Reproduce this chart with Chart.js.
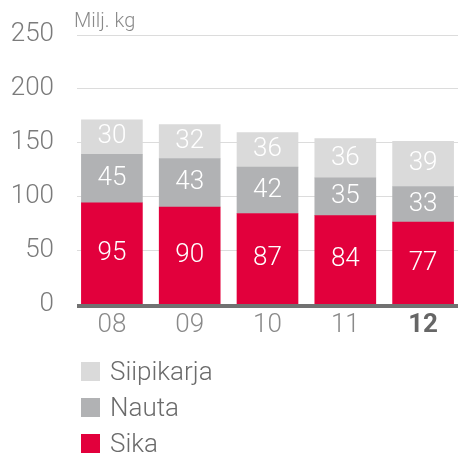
<!DOCTYPE html>
<html>
<head>
<meta charset="utf-8">
<script src="https://cdn.jsdelivr.net/npm/chart.js@4.4.1/dist/chart.umd.min.js"></script>
<style>
  html, body { margin: 0; padding: 0; background: #fff; overflow: hidden; }
  #wrap { position: relative; width: 458px; height: 457px; overflow: hidden; }
  #legend {
    position: absolute; left: 81px; top: 353px;
    font-family: Roboto, sans-serif; font-weight: 300; font-size: 26px; color: #6b6b6b;
  }
  .item { display: flex; align-items: center; height: 36px; }
  .box { width: 19px; height: 19px; margin-right: 10px; }
</style>
</head>
<body>
<div id="wrap">
  <canvas id="chart" width="462" height="457"></canvas>
  <div id="legend"></div>
</div>
<script>
// Vuodet
const years = ["08", "09", "10", "11", "12"];
const yTicks = [0, 50, 100, 150, 200, 250];

// Pylväiden korkeudet kuvasta luettuna (milj. kg)
const sika = [94, 90, 84, 82, 76];
const nauta = [45, 45, 43, 35, 33];
const siipikarja = [32, 31.5, 32, 36.5, 42];

// Pylväisiin kirjoitetut luvut
const sikaLabels = ["95", "90", "87", "84", "77"];
const nautaLabels = ["45", "43", "42", "35", "33"];
const siipikarjaLabels = ["30", "32", "36", "36", "39"];

const colors = { sika: "#e2003c", nauta: "#b1b2b4", siipikarja: "#dadada" };

// Ruudukko, perusviiva, yksikkö ja arvot pylväissä
const extras = {
  id: "extras",
  beforeDatasetsDraw(chart) {
    const { ctx, chartArea, scales: { y } } = chart;
    ctx.save();
    ctx.strokeStyle = "#dcdcdc";
    ctx.lineWidth = 1;
    yTicks.forEach(function (v) {
      if (v === 0) return;
      const py = Math.round(y.getPixelForValue(v)) + 0.5;
      ctx.beginPath();
      ctx.moveTo(77, py);
      ctx.lineTo(chartArea.right, py);
      ctx.stroke();
    });
    ctx.fillStyle = "#717171";
    ctx.fillRect(77, chartArea.bottom, chartArea.right - 77, 4);
    ctx.fillStyle = "#8a8a8a";
    ctx.font = "300 20px Roboto";
    ctx.textAlign = "left";
    ctx.textBaseline = "alphabetic";
    ctx.fillText("Milj. kg", 74, 26.5);
    ctx.restore();
  },
  afterDatasetsDraw(chart) {
    const { ctx } = chart;
    ctx.save();
    ctx.fillStyle = "#fff";
    ctx.font = "300 26px Roboto";
    ctx.textAlign = "center";
    ctx.textBaseline = "middle";
    chart.data.datasets.forEach(function (ds, i) {
      chart.getDatasetMeta(i).data.forEach(function (bar, j) {
        ctx.fillText(ds.valueLabels[j], bar.x, (bar.y + bar.base) / 2);
      });
    });
    ctx.restore();
  }
};

const ctx = document.getElementById("chart").getContext("2d");
const chart = new Chart(ctx, {
  type: "bar",
  data: {
    labels: years,
    datasets: [
      { label: "Sika", data: sika, valueLabels: sikaLabels, backgroundColor: colors.sika },
      { label: "Nauta", data: nauta, valueLabels: nautaLabels, backgroundColor: colors.nauta },
      { label: "Siipikarja", data: siipikarja, valueLabels: siipikarjaLabels, backgroundColor: colors.siipikarja }
    ]
  },
  options: {
    responsive: false,
    animation: false,
    layout: { padding: { top: 32, right: 0, bottom: 0, left: 0 } },
    datasets: { bar: { barThickness: 61, borderWidth: 0 } },
    scales: {
      x: {
        stacked: true,
        grid: { display: false, drawTicks: false },
        border: { display: false },
        ticks: {
          padding: 6,
          color: function (c) { return c.index === 4 ? "#666" : "#8a8a8a"; },
          font: function (c) {
            return { family: "Roboto", size: 26, weight: c.index === 4 ? "bold" : 300 };
          }
        },
        afterFit: function (s) { s.height = 153; }
      },
      y: {
        stacked: true,
        min: 0,
        max: 250,
        grid: { display: false, drawTicks: false },
        border: { display: false },
        ticks: {
          stepSize: 50,
          padding: 19,
          color: "#7b7b7b",
          font: { family: "Roboto", size: 26, weight: 300 }
        },
        afterFit: function (s) { s.width = 73; }
      }
    },
    plugins: {
      legend: { display: false },
      tooltip: { enabled: false }
    }
  },
  plugins: [extras]
});

// Selite HTML:nä, käänteisessä järjestyksessä
const legendEl = document.getElementById("legend");
Chart.defaults.plugins.legend.labels.generateLabels(chart).reverse().forEach(function (item) {
  const row = document.createElement("div");
  row.className = "item";
  row.innerHTML = '<span class="box" style="background:' + item.fillStyle + '"></span><span>' + item.text + "</span>";
  legendEl.appendChild(row);
});
</script>
</body>
</html>
